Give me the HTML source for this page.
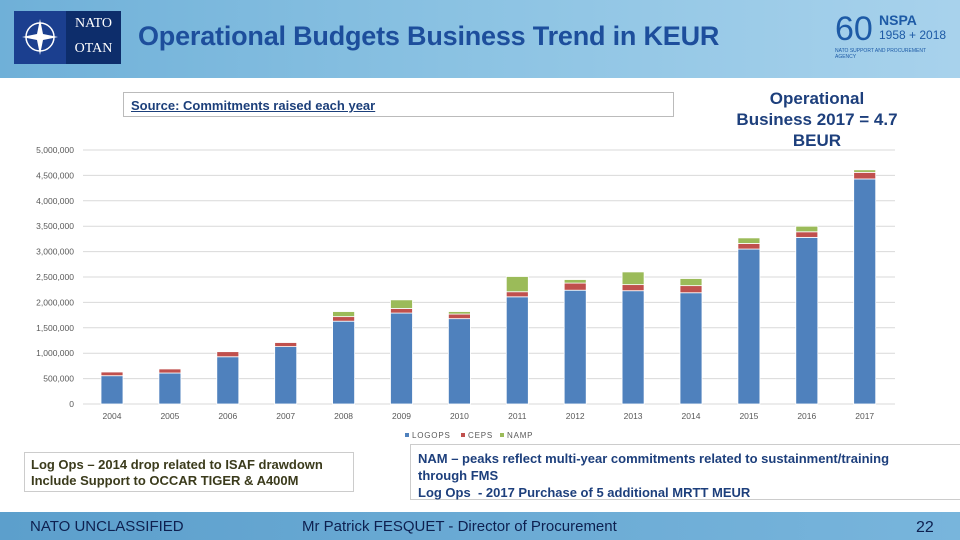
<!DOCTYPE html>
<html><head><meta charset="utf-8"><style>
body{margin:0;width:960px;height:540px;overflow:hidden;background:#fff;font-family:"Liberation Sans",sans-serif;position:relative}
.abs{position:absolute}
</style></head><body>
<div class="abs" style="left:0;top:0;width:960px;height:78px;background:linear-gradient(90deg,#6fb0d8,#8cc3e3 50%,#a8d2ec)"></div>
<div class="abs" style="left:14px;top:11px;width:52px;height:53px;background:#1b3f8f"><svg width="52" height="53"><circle cx="26" cy="26" r="14" fill="none" stroke="#fff" stroke-width="1.5"/><polygon points="26,8 29,23 44,26 29,29 26,44 23,29 8,26 23,23" fill="#fff"/></svg></div>
<div class="abs" style="left:66px;top:11px;width:55px;height:53px;background:#0d2d6b;color:#fff;font-family:'Liberation Serif',serif;font-size:14px;text-align:center;line-height:25px">NATO<br>OTAN</div>
<div class="abs" style="left:138px;top:21px;font-size:27px;font-weight:bold;color:#1d4e9c;letter-spacing:-0.2px">Operational Budgets Business Trend in KEUR</div>
<div class="abs" style="left:835px;top:10px;width:112px;height:52px;color:#1d5aa6;font-size:11px"><span style="font-size:34px;position:absolute;left:0;top:0">60</span><span style="position:absolute;left:44px;top:2px;font-weight:bold;font-size:14px">NSPA</span><span style="position:absolute;left:44px;top:18px;font-size:12px">1958 + 2018</span><span style="position:absolute;left:0;top:38px;font-size:5px">NATO SUPPORT AND PROCUREMENT AGENCY</span></div>
<div class="abs" style="left:123px;top:92px;width:549px;height:23px;border:1px solid #bbb"><span style="position:absolute;left:7px;top:5px;font-size:13px;font-weight:bold;color:#1c3f7a;text-decoration:underline">Source: Commitments raised each year</span></div>
<div class="abs" style="left:717px;top:88px;width:200px;text-align:center;font-size:17px;font-weight:bold;color:#1d3f7c;line-height:21px">Operational<br>Business 2017 = 4.7<br>BEUR</div>
<svg class="abs" style="left:0;top:0" width="960" height="540" id="chart"></svg>
<div class="abs" style="left:24px;top:452px;width:330px;height:40px;border:1px solid #ccc;font-size:13px;font-weight:bold;color:#3b3b1c;line-height:16px;padding:4px 6px;box-sizing:border-box">Log Ops – 2014 drop related to ISAF drawdown<br>Include Support to OCCAR TIGER &amp; A400M</div>
<div class="abs" style="left:410px;top:444px;width:560px;height:56px;border:1px solid #ccc;font-size:13px;font-weight:bold;color:#1d3f7c;line-height:17px;padding:5px 7px;box-sizing:border-box">NAM – peaks reflect multi-year commitments related to sustainment/training<br>through FMS<br>Log Ops &nbsp;- 2017 Purchase of 5 additional MRTT MEUR</div>
<div class="abs" style="left:0;top:512px;width:960px;height:28px;background:linear-gradient(90deg,#5c9fcc,#78b5dc)"></div>
<div class="abs" style="left:30px;top:518px;font-size:15px;color:#0e2050">NATO UNCLASSIFIED</div>
<div class="abs" style="left:302px;top:518px;font-size:15px;color:#0e2050">Mr Patrick FESQUET - Director of Procurement</div>
<div class="abs" style="left:916px;top:519px;font-size:16px;color:#0e2050">22</div>
<script>
const years=["2004","2005","2006","2007","2008","2009","2010","2011","2012","2013","2014","2015","2016","2017"];
const logops=[557,610,930,1130,1630,1790,1680,2110,2240,2230,2190,3050,3280,4430];
const ceps=[73,80,100,80,90,90,90,100,140,120,140,110,110,130];
const namp=[0,0,0,0,100,170,50,300,70,250,140,110,110,50];
const yTicks=[0,500000,1000000,1500000,2000000,2500000,3000000,3500000,4000000,4500000,5000000];
const svg=document.getElementById('chart');const NS='http://www.w3.org/2000/svg';
const y0=404,pxPerK=254/5000;
const yScale=v=>y0-v*pxPerK;
const xScale=i=>112+i*57.9;
function mk(t,a){const e=document.createElementNS(NS,t);for(const k in a)e.setAttribute(k,a[k]);svg.appendChild(e);return e;}
yTicks.forEach(t=>{
 const y=yScale(t/1000);
 const l=mk('line',{x1:83,x2:895,y1:y,y2:y,stroke:'#d9d9d9','stroke-width':1});
 
 
 const tx=mk('text',{x:74,y:y+3,'text-anchor':'end','font-size':8.5,fill:'#595959','font-family':'Liberation Sans'});
 tx.textContent=t.toLocaleString('en-US');
 
 
});
const cols=['#4f81bd','#c0504d','#9bbb59'];
years.forEach((yr,i)=>{
 const cx=xScale(i),w=22;let base=0;
 [logops[i],ceps[i],namp[i]].forEach((v,s)=>{
  if(v<=0)return;
  const r=mk('rect',{x:cx-w/2,y:yScale(base+v),width:w,height:v*pxPerK,fill:cols[s],stroke:'#fff','stroke-width':0.8});
  
  
  base+=v;
 });
 const t=mk('text',{x:cx,y:419,'text-anchor':'middle','font-size':8.5,fill:'#595959','font-family':'Liberation Sans'});
 t.textContent=yr;
 
 
});
const names=['LOGOPS','CEPS','NAMP'];const lx=[405,461,500];
names.forEach((n,s)=>{
 const r=mk('rect',{x:lx[s],y:433,width:4,height:4,fill:cols[s]});
 
 
 const t=mk('text',{x:lx[s]+7,y:438,'font-size':8,fill:'#595959','font-family':'Liberation Sans','letter-spacing':'0.8'});
 t.textContent=n;
 
 
});
</script>
</body></html>
